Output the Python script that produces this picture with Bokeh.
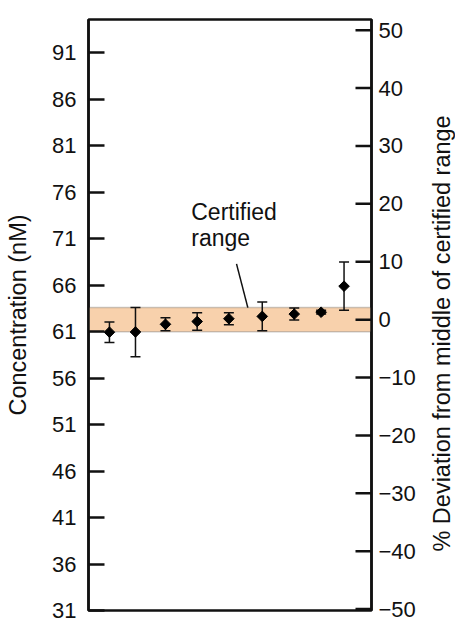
import math
from bokeh.plotting import figure
from bokeh.layouts import row
from bokeh.models import (Range1d, LinearAxis, FixedTicker, BoxAnnotation, Whisker,
                          TeeHead, ColumnDataSource, Label)
from bokeh.embed import file_html
from bokeh.resources import INLINE

# ---- data ----
run = [0.74, 1.66, 2.72, 3.84, 4.96, 6.14, 7.27, 8.22, 9.03]
conc = [60.95, 60.97, 61.8, 62.1, 62.4, 62.65, 62.9, 63.1, 65.9]
err = [1.1, 2.65, 0.7, 0.95, 0.65, 1.55, 0.65, 0.2, 2.6]
cert_low = 61.0
cert_high = 63.6
conc_ticks = [31, 36, 41, 46, 51, 56, 61, 66, 71, 76, 81, 86, 91]
pct_ticks = [-50, -40, -30, -20, -10, 0, 10, 20, 30, 40, 50]
pointer_x = [5.23, 5.63]
pointer_y = [68.3, cert_high]

FONT = "Liberation Sans"
INK = "#111111"

x_lo, x_hi = 0.0, 10.0
y_lo, y_hi = 31.0, 94.6
mid = (cert_low + cert_high) / 2.0
W, H = 420, 625          # main panel
SW = 455 - W             # strip holding the right-hand title
BL, BR, BT, BB = 88, W - 371, 19, 15
px_per_x = (W - BL - BR) / (x_hi - x_lo)
tick_len = 16 / px_per_x

p = figure(width=W, height=H, output_backend="svg", toolbar_location=None,
           x_range=Range1d(x_lo, x_hi), y_range=Range1d(y_lo, y_hi),
           x_axis_location=None, y_axis_location="left",
           min_border_left=BL, min_border_right=BR, min_border_top=BT, min_border_bottom=BB)
p.background_fill_color = "white"
p.border_fill_color = "white"
p.grid.visible = False
p.outline_line_color = INK
p.outline_line_width = 2.5

# certified band
band = BoxAnnotation(bottom=cert_low, top=cert_high, fill_color="#F8D1AC", fill_alpha=1.0,
                     line_color="#555555", line_width=1.5, level="underlay")
p.add_layout(band)

# error bars
src = ColumnDataSource(dict(x=run, y=conc,
                            upper=[c + e for c, e in zip(conc, err)],
                            lower=[c - e for c, e in zip(conc, err)]))
wh = Whisker(source=src, base="x", upper="upper", lower="lower", dimension="height",
             line_color=INK, line_width=1.5,
             upper_head=TeeHead(size=10, line_color=INK, line_width=1.5),
             lower_head=TeeHead(size=10, line_color=INK, line_width=1.5))
p.add_layout(wh)

p.scatter("x", "y", source=src, marker="square", angle=0.785398, size=7.5,
          fill_color="#000000", line_color="#000000")

# pointer and annotation
p.line(pointer_x, pointer_y, line_color=INK, line_width=1.5)
p.add_layout(Label(x=3.63, y=73.85, text="Certified", text_font=FONT, text_font_size="23px",
                   text_color=INK, text_align="left", text_baseline="middle"))
p.add_layout(Label(x=3.63, y=71.05, text="range", text_font=FONT, text_font_size="23px",
                   text_color=INK, text_align="left", text_baseline="middle"))

# left axis
ax = p.yaxis[0]
ax.ticker = FixedTicker(ticks=conc_ticks)
ax.axis_label = "Concentration (nM)"

# right axis (percent deviation from the middle of the certified range)
p.extra_y_ranges = {"pct": Range1d((y_lo - mid) / mid * 100.0, (y_hi - mid) / mid * 100.0)}
rax = LinearAxis(y_range_name="pct", ticker=FixedTicker(ticks=pct_ticks))
rax.major_label_overrides = {t: (("\u2212" + str(-t)) if t < 0 else str(t)) for t in pct_ticks}
p.add_layout(rax, "right")

# inward tick marks of the right axis
p.segment(x0=[x_hi - tick_len] * len(pct_ticks), x1=[x_hi] * len(pct_ticks),
          y0=pct_ticks, y1=pct_ticks, y_range_name="pct", line_color=INK, line_width=2.5)

for a in (ax, rax):
    a.axis_line_color = INK
    a.axis_line_width = 2.5
    a.major_tick_line_color = INK
    a.major_tick_line_width = 2.5
    a.minor_tick_in = 0
    a.minor_tick_out = 0
    a.minor_tick_line_color = None
    a.major_label_text_font = FONT
    a.major_label_text_font_size = "22px"
    a.major_label_text_color = INK
    a.axis_label_text_font = FONT
    a.axis_label_text_font_size = "23.5px"
    a.axis_label_text_font_style = "normal"
    a.axis_label_text_color = INK

ax.major_tick_in = 16
ax.major_tick_out = 0
rax.major_tick_in = 0
rax.major_tick_out = 0
rax.major_tick_line_color = None
ax.major_label_standoff = 12
ax.axis_label_standoff = 18
rax.major_label_standoff = 7

# right-hand title strip (text reads bottom to top, as in the reference)
s = figure(width=SW, height=H, output_backend="svg", toolbar_location=None,
           x_range=Range1d(0, SW), y_range=Range1d(0, H),
           x_axis_location=None, y_axis_location=None,
           min_border_left=0, min_border_right=0, min_border_top=0, min_border_bottom=0)
s.outline_line_color = None
s.grid.visible = False
s.background_fill_color = "white"
s.border_fill_color = "white"
s.add_layout(Label(x=441 - W, y=H - 332, text="% Deviation from middle of certified range",
                   angle=math.pi / 2, text_font=FONT, text_font_size="23.5px",
                   text_color=INK, text_align="center", text_baseline="middle"))

layout = row(p, s, spacing=0)
open("out.html", "w").write(file_html(layout, INLINE))
